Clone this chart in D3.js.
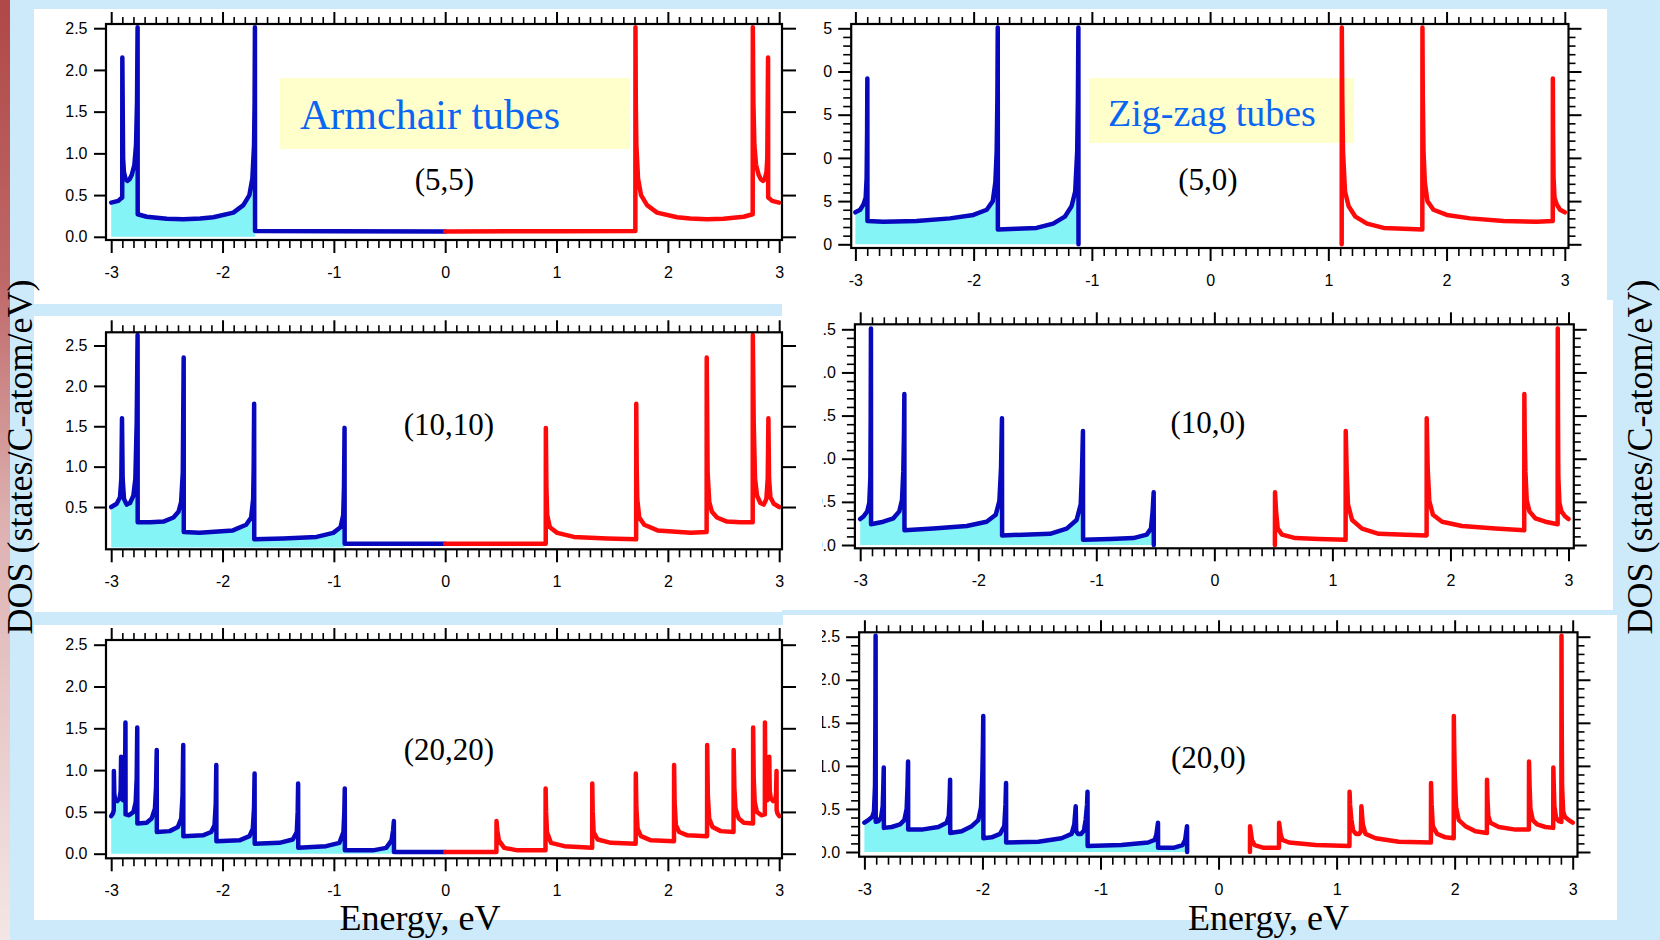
<!DOCTYPE html>
<html lang="en">
<head>
  <meta charset="UTF-8">
  <title>Nanotube DOS</title>
  <script src="https://d3js.org/d3.v7.min.js"></script>
  <style>
    body { margin: 0; background: #cdeafb; }
    svg { display: block; }
  </style>
</head>
<body>
  <svg width="1660" height="940"></svg>
  <script>
    // ---- data: [energy eV, DOS] ----
    const energyTicks = [-3, -2, -1, 0, 1, 2, 3];
    const dosTicks = [0, 0.5, 1, 1.5, 2, 2.5];
    const dosTicksNoZero = [0.5, 1, 1.5, 2, 2.5];
    const tubeNames = ["(5,5)", "(5,0)", "(10,10)", "(10,0)", "(20,20)", "(20,0)"];
    const fillEnds = [-1.708, -1.113, -0.903, -0.513, -0.460, -0.266];

    const valence55 = [[-3.0,0.41],[-2.936,0.43],[-2.912,0.46],[-2.901,0.47],[-2.9,2.15],[-2.893,0.94],[-2.886,0.78],[-2.87,0.69],[-2.855,0.67],[-2.835,0.69],[-2.816,0.74],[-2.792,0.86],[-2.777,1.10],[-2.768,1.62],[-2.763,2.51],[-2.762,0.27],[-2.681,0.24],[-2.5,0.215],[-2.352,0.21],[-2.2,0.22],[-2.083,0.235],[-1.903,0.29],[-1.813,0.38],[-1.759,0.50],[-1.732,0.70],[-1.717,1.10],[-1.712,1.60],[-1.709,2.51],[-1.708,0.07],[-1.0,0.068],[0,0.065]];
    const conduction55 = [[0,0.065],[1.0,0.068],[1.708,0.07],[1.709,2.51],[1.712,1.60],[1.717,1.10],[1.732,0.70],[1.759,0.50],[1.813,0.38],[1.903,0.29],[2.083,0.235],[2.2,0.22],[2.352,0.21],[2.5,0.215],[2.681,0.24],[2.762,0.27],[2.763,2.51],[2.768,1.62],[2.777,1.10],[2.792,0.86],[2.816,0.74],[2.835,0.69],[2.855,0.67],[2.87,0.69],[2.886,0.78],[2.893,0.94],[2.9,2.15],[2.901,0.47],[2.912,0.46],[2.936,0.43],[3.0,0.41]];

    const valence50 = [[-3.0,0.37],[-2.96,0.40],[-2.932,0.46],[-2.913,0.54],[-2.905,0.77],[-2.901,1.30],[-2.899,1.92],[-2.898,0.27],[-2.764,0.26],[-2.482,0.27],[-2.2,0.30],[-2.002,0.34],[-1.889,0.40],[-1.838,0.50],[-1.816,0.72],[-1.805,1.08],[-1.799,1.70],[-1.796,2.51],[-1.795,0.17],[-1.637,0.18],[-1.468,0.19],[-1.327,0.24],[-1.229,0.32],[-1.172,0.44],[-1.141,0.61],[-1.124,1.08],[-1.118,1.70],[-1.114,2.51],[-1.113,0.0]];
    const conduction50 = [[1.113,0.0],[1.114,2.51],[1.118,1.70],[1.124,1.08],[1.141,0.61],[1.172,0.44],[1.229,0.32],[1.327,0.24],[1.468,0.19],[1.637,0.18],[1.795,0.17],[1.796,2.51],[1.799,1.70],[1.805,1.08],[1.816,0.72],[1.838,0.50],[1.889,0.40],[2.002,0.34],[2.2,0.30],[2.482,0.27],[2.764,0.26],[2.898,0.27],[2.899,1.92],[2.901,1.30],[2.905,0.77],[2.913,0.54],[2.932,0.46],[2.96,0.40],[3.0,0.37]];

    const valence1010 = [[-3.0,0.50],[-2.951,0.54],[-2.921,0.62],[-2.909,0.85],[-2.903,1.60],[-2.897,0.85],[-2.885,0.60],[-2.861,0.53],[-2.831,0.55],[-2.801,0.64],[-2.783,0.85],[-2.771,1.55],[-2.763,2.63],[-2.762,0.31],[-2.651,0.31],[-2.531,0.32],[-2.441,0.37],[-2.396,0.44],[-2.372,0.56],[-2.357,0.93],[-2.349,2.35],[-2.348,0.19],[-2.206,0.18],[-1.907,0.21],[-1.788,0.28],[-1.743,0.37],[-1.725,0.60],[-1.720,1.00],[-1.716,1.78],[-1.715,0.10],[-1.455,0.11],[-1.156,0.13],[-1.006,0.18],[-0.940,0.25],[-0.916,0.40],[-0.909,0.75],[-0.904,1.48],[-0.903,0.045],[0,0.045]];
    const conduction1010 = [[0,0.045],[0.903,0.045],[0.904,1.48],[0.909,0.75],[0.916,0.40],[0.940,0.25],[1.006,0.18],[1.156,0.13],[1.455,0.11],[1.715,0.10],[1.716,1.78],[1.720,1.00],[1.725,0.60],[1.743,0.37],[1.788,0.28],[1.907,0.21],[2.206,0.18],[2.348,0.19],[2.349,2.35],[2.357,0.93],[2.372,0.56],[2.396,0.44],[2.441,0.37],[2.531,0.32],[2.651,0.31],[2.762,0.31],[2.763,2.63],[2.771,1.55],[2.783,0.85],[2.801,0.64],[2.831,0.55],[2.861,0.53],[2.885,0.60],[2.897,0.85],[2.903,1.60],[2.909,0.85],[2.921,0.62],[2.951,0.54],[3.0,0.50]];

    const valence100 = [[-3.0,0.30],[-2.973,0.33],[-2.940,0.39],[-2.923,0.49],[-2.914,0.78],[-2.911,1.50],[-2.909,2.51],[-2.908,0.24],[-2.804,0.27],[-2.719,0.31],[-2.669,0.39],[-2.646,0.52],[-2.635,0.85],[-2.629,1.30],[-2.626,1.75],[-2.625,0.17],[-2.381,0.19],[-2.098,0.22],[-1.929,0.27],[-1.852,0.35],[-1.821,0.51],[-1.807,0.89],[-1.799,1.47],[-1.798,0.11],[-1.618,0.12],[-1.392,0.13],[-1.251,0.19],[-1.167,0.29],[-1.132,0.47],[-1.121,0.86],[-1.113,1.32],[-1.112,0.06],[-0.884,0.07],[-0.686,0.08],[-0.573,0.12],[-0.537,0.19],[-0.523,0.39],[-0.514,0.61],[-0.513,0.0]];
    const conduction100 = [[0.513,0.0],[0.514,0.61],[0.523,0.39],[0.537,0.19],[0.573,0.12],[0.686,0.08],[0.884,0.07],[1.112,0.06],[1.113,1.32],[1.121,0.86],[1.132,0.47],[1.167,0.29],[1.251,0.19],[1.392,0.13],[1.618,0.12],[1.798,0.11],[1.799,1.47],[1.807,0.89],[1.821,0.51],[1.852,0.35],[1.929,0.27],[2.098,0.22],[2.381,0.19],[2.625,0.17],[2.626,1.75],[2.629,1.30],[2.635,0.85],[2.646,0.52],[2.669,0.39],[2.719,0.31],[2.804,0.27],[2.908,0.24],[2.909,2.51],[2.911,1.50],[2.914,0.78],[2.923,0.49],[2.940,0.39],[2.973,0.33],[3.0,0.30]];

    const valence2020 = [[-3.0,0.45],[-2.985,0.48],[-2.977,0.52],[-2.976,0.99],[-2.972,0.72],[-2.965,0.65],[-2.945,0.63],[-2.925,0.66],[-2.915,0.75],[-2.911,1.16],[-2.908,0.68],[-2.895,0.64],[-2.882,0.72],[-2.875,0.95],[-2.872,1.57],[-2.871,0.47],[-2.840,0.46],[-2.800,0.50],[-2.780,0.62],[-2.771,0.90],[-2.766,1.51],[-2.765,0.36],[-2.682,0.37],[-2.637,0.42],[-2.607,0.54],[-2.597,0.80],[-2.591,1.24],[-2.590,0.26],[-2.475,0.27],[-2.401,0.32],[-2.371,0.42],[-2.359,0.70],[-2.353,1.30],[-2.352,0.21],[-2.176,0.22],[-2.102,0.26],[-2.072,0.34],[-2.061,0.60],[-2.056,1.06],[-2.055,0.15],[-1.848,0.16],[-1.758,0.21],[-1.728,0.30],[-1.717,0.55],[-1.712,0.96],[-1.711,0.12],[-1.489,0.13],[-1.369,0.17],[-1.333,0.26],[-1.325,0.50],[-1.321,0.84],[-1.320,0.07],[-1.070,0.09],[-0.950,0.13],[-0.914,0.26],[-0.906,0.50],[-0.902,0.78],[-0.901,0.04],[-0.650,0.04],[-0.530,0.07],[-0.482,0.16],[-0.468,0.28],[-0.461,0.39],[-0.460,0.02],[0,0.02]];
    const conduction2020 = [[0,0.02],[0.460,0.02],[0.461,0.39],[0.468,0.28],[0.482,0.16],[0.530,0.07],[0.650,0.04],[0.901,0.04],[0.902,0.78],[0.906,0.50],[0.914,0.26],[0.950,0.13],[1.070,0.09],[1.320,0.07],[1.321,0.84],[1.325,0.50],[1.333,0.26],[1.369,0.17],[1.489,0.13],[1.711,0.12],[1.712,0.96],[1.717,0.55],[1.728,0.30],[1.758,0.21],[1.848,0.16],[2.055,0.15],[2.056,1.06],[2.061,0.60],[2.072,0.34],[2.102,0.26],[2.176,0.22],[2.352,0.21],[2.353,1.30],[2.359,0.70],[2.371,0.42],[2.401,0.32],[2.475,0.27],[2.590,0.26],[2.591,1.24],[2.597,0.80],[2.607,0.54],[2.637,0.42],[2.682,0.37],[2.765,0.36],[2.766,1.51],[2.771,0.90],[2.780,0.62],[2.800,0.50],[2.840,0.46],[2.871,0.47],[2.872,1.57],[2.875,0.95],[2.882,0.72],[2.895,0.64],[2.908,0.68],[2.911,1.16],[2.915,0.75],[2.925,0.66],[2.945,0.63],[2.965,0.65],[2.972,0.72],[2.976,0.99],[2.977,0.52],[2.985,0.48],[3.0,0.45]];

    const valence200 = [[-3.0,0.34],[-2.967,0.37],[-2.933,0.41],[-2.919,0.47],[-2.910,0.77],[-2.907,1.50],[-2.905,2.51],[-2.904,0.35],[-2.880,0.36],[-2.859,0.40],[-2.845,0.53],[-2.840,0.75],[-2.836,0.98],[-2.835,0.28],[-2.769,0.29],[-2.698,0.32],[-2.662,0.37],[-2.642,0.50],[-2.635,0.75],[-2.630,1.05],[-2.629,0.26],[-2.515,0.26],[-2.374,0.29],[-2.303,0.34],[-2.285,0.42],[-2.278,0.62],[-2.274,0.84],[-2.273,0.22],[-2.176,0.24],[-2.091,0.30],[-2.035,0.37],[-2.012,0.52],[-2.001,0.90],[-1.996,1.25],[-1.993,1.58],[-1.992,0.16],[-1.922,0.17],[-1.851,0.21],[-1.815,0.30],[-1.805,0.55],[-1.800,0.80],[-1.799,0.11],[-1.527,0.12],[-1.330,0.16],[-1.245,0.21],[-1.222,0.32],[-1.210,0.53],[-1.206,0.24],[-1.190,0.21],[-1.165,0.21],[-1.140,0.25],[-1.125,0.38],[-1.114,0.55],[-1.110,0.70],[-1.109,0.07],[-0.823,0.08],[-0.597,0.11],[-0.541,0.14],[-0.527,0.20],[-0.513,0.34],[-0.512,0.05],[-0.376,0.05],[-0.305,0.08],[-0.283,0.14],[-0.267,0.30],[-0.266,0.0]];
    const conduction200 = [[0.266,0.0],[0.267,0.30],[0.283,0.14],[0.305,0.08],[0.376,0.05],[0.512,0.05],[0.513,0.34],[0.527,0.20],[0.541,0.14],[0.597,0.11],[0.823,0.08],[1.109,0.07],[1.110,0.70],[1.114,0.55],[1.125,0.38],[1.140,0.25],[1.165,0.21],[1.190,0.21],[1.206,0.24],[1.210,0.53],[1.222,0.32],[1.245,0.21],[1.330,0.16],[1.527,0.12],[1.799,0.11],[1.800,0.80],[1.805,0.55],[1.815,0.30],[1.851,0.21],[1.922,0.17],[1.992,0.16],[1.993,1.58],[1.996,1.25],[2.001,0.90],[2.012,0.52],[2.035,0.37],[2.091,0.30],[2.176,0.24],[2.273,0.22],[2.274,0.84],[2.278,0.62],[2.285,0.42],[2.303,0.34],[2.374,0.29],[2.515,0.26],[2.629,0.26],[2.630,1.05],[2.635,0.75],[2.642,0.50],[2.662,0.37],[2.698,0.32],[2.769,0.29],[2.835,0.28],[2.836,0.98],[2.840,0.75],[2.845,0.53],[2.859,0.40],[2.880,0.36],[2.904,0.35],[2.905,2.51],[2.907,1.50],[2.910,0.77],[2.919,0.47],[2.933,0.41],[2.967,0.37],[3.0,0.34]];

    const valenceSets = [valence55, valence50, valence1010, valence100, valence2020, valence200];
    const conductionSets = [conduction55, conduction50, conduction1010, conduction100, conduction2020, conduction200];

    // ---- layout (pixels) ----
    const frames = [
      { x0: 106, x1: 782, y0: 24, y1: 240, em3: 111.2, ep3: 779.2, v0: 236.8, v25: 28.2, zig: false, lx: 444.5, ly: 189.5 },
      { x0: 851.2, x1: 1568.5, y0: 24, y1: 248, em3: 855.4, ep3: 1564.8, v0: 244.3, v25: 28.3, zig: true, lx: 1208, ly: 189.7, clip: 823 },
      { x0: 106, x1: 782, y0: 332.3, y1: 549.3, em3: 111.2, ep3: 779.2, v0: 547.4, v25: 345.5, zig: false, lx: 449, ly: 435.3, noZero: true },
      { x0: 854.9, x1: 1573.8, y0: 324.3, y1: 548.3, em3: 860.2, ep3: 1568.5, v0: 545, v25: 329.3, zig: true, lx: 1208, ly: 433, clip: 822 },
      { x0: 106, x1: 782, y0: 640, y1: 858.3, em3: 111.2, ep3: 779.2, v0: 853.7, v25: 644.7, zig: false, lx: 449, ly: 760.3 },
      { x0: 859.1, x1: 1577.5, y0: 632.3, y1: 856.7, em3: 864.4, ep3: 1572.7, v0: 852, v25: 636.7, zig: true, lx: 1208.5, ly: 767.7, clip: 822 }
    ];
    const blue = "#0808bd", red = "#ff0a0a", cyan = "#84f4f7";
    const serif = "'Liberation Serif', 'Times New Roman', serif";
    const sans = "'Liberation Sans', Arial, sans-serif";

    const svg = d3.select("svg");
    const defs = svg.append("defs");
    const grad = defs.append("linearGradient").attr("id", "edge")
      .attr("x1", 0).attr("y1", 0).attr("x2", 0).attr("y2", 1);
    [[0, "#b04848"], [0.3, "#bf6868"], [0.55, "#ddb0b0"], [1, "#f4e6e6"]]
      .forEach(([o, c]) => grad.append("stop").attr("offset", o).attr("stop-color", c));

    svg.append("rect").attr("width", 1660).attr("height", 940).attr("fill", "#cdeafb");
    svg.append("rect").attr("width", 10).attr("height", 940).attr("fill", "url(#edge)");

    // white slide sheets behind the plots
    const sheets = [[34, 9, 1607, 304], [34, 316, 782, 612], [782, 9, 1607, 310], [782, 300, 1613, 610], [34, 625, 830, 920], [783, 615, 1617, 920]];
    sheets.forEach(([a, b, c, d]) => svg.append("rect")
      .attr("x", a).attr("y", b).attr("width", c - a).attr("height", d - b).attr("fill", "#fff"));

    // yellow caption boxes
    svg.append("rect").attr("x", 280).attr("y", 78).attr("width", 350).attr("height", 71).attr("fill", "#ffffcc");
    svg.append("rect").attr("x", 1089).attr("y", 78).attr("width", 265).attr("height", 65).attr("fill", "#ffffcc");
    svg.append("text").attr("x", 300).attr("y", 129).attr("font-family", serif).attr("font-size", 42)
      .attr("fill", "#0a66f2").text("Armchair tubes");
    svg.append("text").attr("x", 1108).attr("y", 126).attr("font-family", serif).attr("font-size", 38)
      .attr("fill", "#0a66f2").text("Zig-zag tubes");

    const minorE = d3.range(-29, 30).filter(k => k % 10 !== 0).map(k => k / 10);
    const minorV = d3.range(1, 25).filter(k => k % 5 !== 0).map(k => k / 10);

    function styleAxis(sel, width) {
      sel.select(".domain").remove();
      sel.selectAll(".tick line").attr("stroke", "#000").attr("stroke-width", width);
      sel.selectAll(".tick text").attr("font-family", sans).attr("font-size", 16).attr("fill", "#000");
    }

    frames.forEach((f, i) => {
      const x = d3.scaleLinear().domain([-3, 3]).range([f.em3, f.ep3]);
      const y = d3.scaleLinear().domain([0, 2.5]).range([f.v0, f.v25]);
      const g = svg.append("g");

      const cid = "clip" + i;
      defs.append("clipPath").attr("id", cid).append("rect")
        .attr("x", f.x0).attr("y", f.y0).attr("width", f.x1 - f.x0).attr("height", f.y1 - f.y0);

      // occupied states shading
      const filled = valenceSets[i].filter(d => d[0] <= fillEnds[i] + 1e-9);
      g.append("path").datum(filled)
        .attr("clip-path", `url(#${cid})`)
        .attr("fill", cyan)
        .attr("d", d3.area().x(d => x(d[0])).y0(y(0)).y1(d => y(d[1])));

      const line = d3.line().x(d => x(d[0])).y(d => y(d[1]));
      [[valenceSets[i], blue], [conductionSets[i], red]].forEach(([data, col]) => {
        g.append("path").datum(data)
          .attr("clip-path", `url(#${cid})`)
          .attr("fill", "none").attr("stroke", col).attr("stroke-width", 4.5)
          .attr("stroke-linejoin", "round").attr("stroke-linecap", "round")
          .attr("d", line);
      });

      // energy axes (bottom with labels, top mirrored)
      g.append("g").attr("transform", `translate(0,${f.y1})`)
        .call(d3.axisBottom(x).tickValues(energyTicks).tickSize(13).tickPadding(13.6).tickFormat(d => String(d)))
        .call(s => styleAxis(s, 2));
      g.append("g").attr("transform", `translate(0,${f.y1})`)
        .call(d3.axisBottom(x).tickValues(minorE).tickSize(8).tickFormat(""))
        .call(s => styleAxis(s, 1.6));
      g.append("g").attr("transform", `translate(0,${f.y0})`)
        .call(d3.axisTop(x).tickValues(energyTicks).tickSize(12).tickFormat(""))
        .call(s => styleAxis(s, 2));
      g.append("g").attr("transform", `translate(0,${f.y0})`)
        .call(d3.axisTop(x).tickValues(minorE).tickSize(7).tickFormat(""))
        .call(s => styleAxis(s, 1.6));

      // DOS axes
      const vt = f.noZero ? dosTicksNoZero : dosTicks;
      const left = g.append("g").attr("transform", `translate(${f.x0},0)`);
      if (f.clip) {
        defs.append("clipPath").attr("id", "lab" + i).append("rect")
          .attr("x", f.clip - f.x0).attr("y", -1000).attr("width", 2000).attr("height", 3000);
        left.attr("clip-path", `url(#lab${i})`);
      }
      left.call(d3.axisLeft(y).tickValues(vt).tickSize(f.zig ? 13 : 12).tickPadding(f.zig ? 6 : 6.5).tickFormat(d3.format(".1f")))
        .call(s => styleAxis(s, 2));
      g.append("g").attr("transform", `translate(${f.x1},0)`)
        .call(d3.axisRight(y).tickValues(vt).tickSize(f.zig ? 13 : 14).tickFormat(""))
        .call(s => styleAxis(s, 2));
      if (f.zig) {
        g.append("g").attr("transform", `translate(${f.x0},0)`)
          .call(d3.axisLeft(y).tickValues(minorV).tickSize(8).tickFormat(""))
          .call(s => styleAxis(s, 1.6));
        g.append("g").attr("transform", `translate(${f.x1},0)`)
          .call(d3.axisRight(y).tickValues(minorV).tickSize(7).tickFormat(""))
          .call(s => styleAxis(s, 1.6));
      }

      g.append("rect").attr("x", f.x0).attr("y", f.y0)
        .attr("width", f.x1 - f.x0).attr("height", f.y1 - f.y0)
        .attr("fill", "none").attr("stroke", "#000").attr("stroke-width", 2.2);

      g.append("text").attr("x", f.lx).attr("y", f.ly).attr("text-anchor", "middle")
        .attr("font-family", serif).attr("font-size", 31).attr("fill", "#000").text(tubeNames[i]);
    });

    // axis titles
    [[420, 930], [1268.6, 930]].forEach(([px, py]) => svg.append("text")
      .attr("x", px).attr("y", py).attr("text-anchor", "middle")
      .attr("font-family", serif).attr("font-size", 36).attr("fill", "#000").text("Energy, eV"));
    [32, 1652].forEach(px => svg.append("text")
      .attr("transform", `translate(${px},457) rotate(-90)`).attr("text-anchor", "middle")
      .attr("font-family", serif).attr("font-size", 36).attr("fill", "#000").text("DOS (states/C-atom/eV)"));
  </script>
</body>
</html>
